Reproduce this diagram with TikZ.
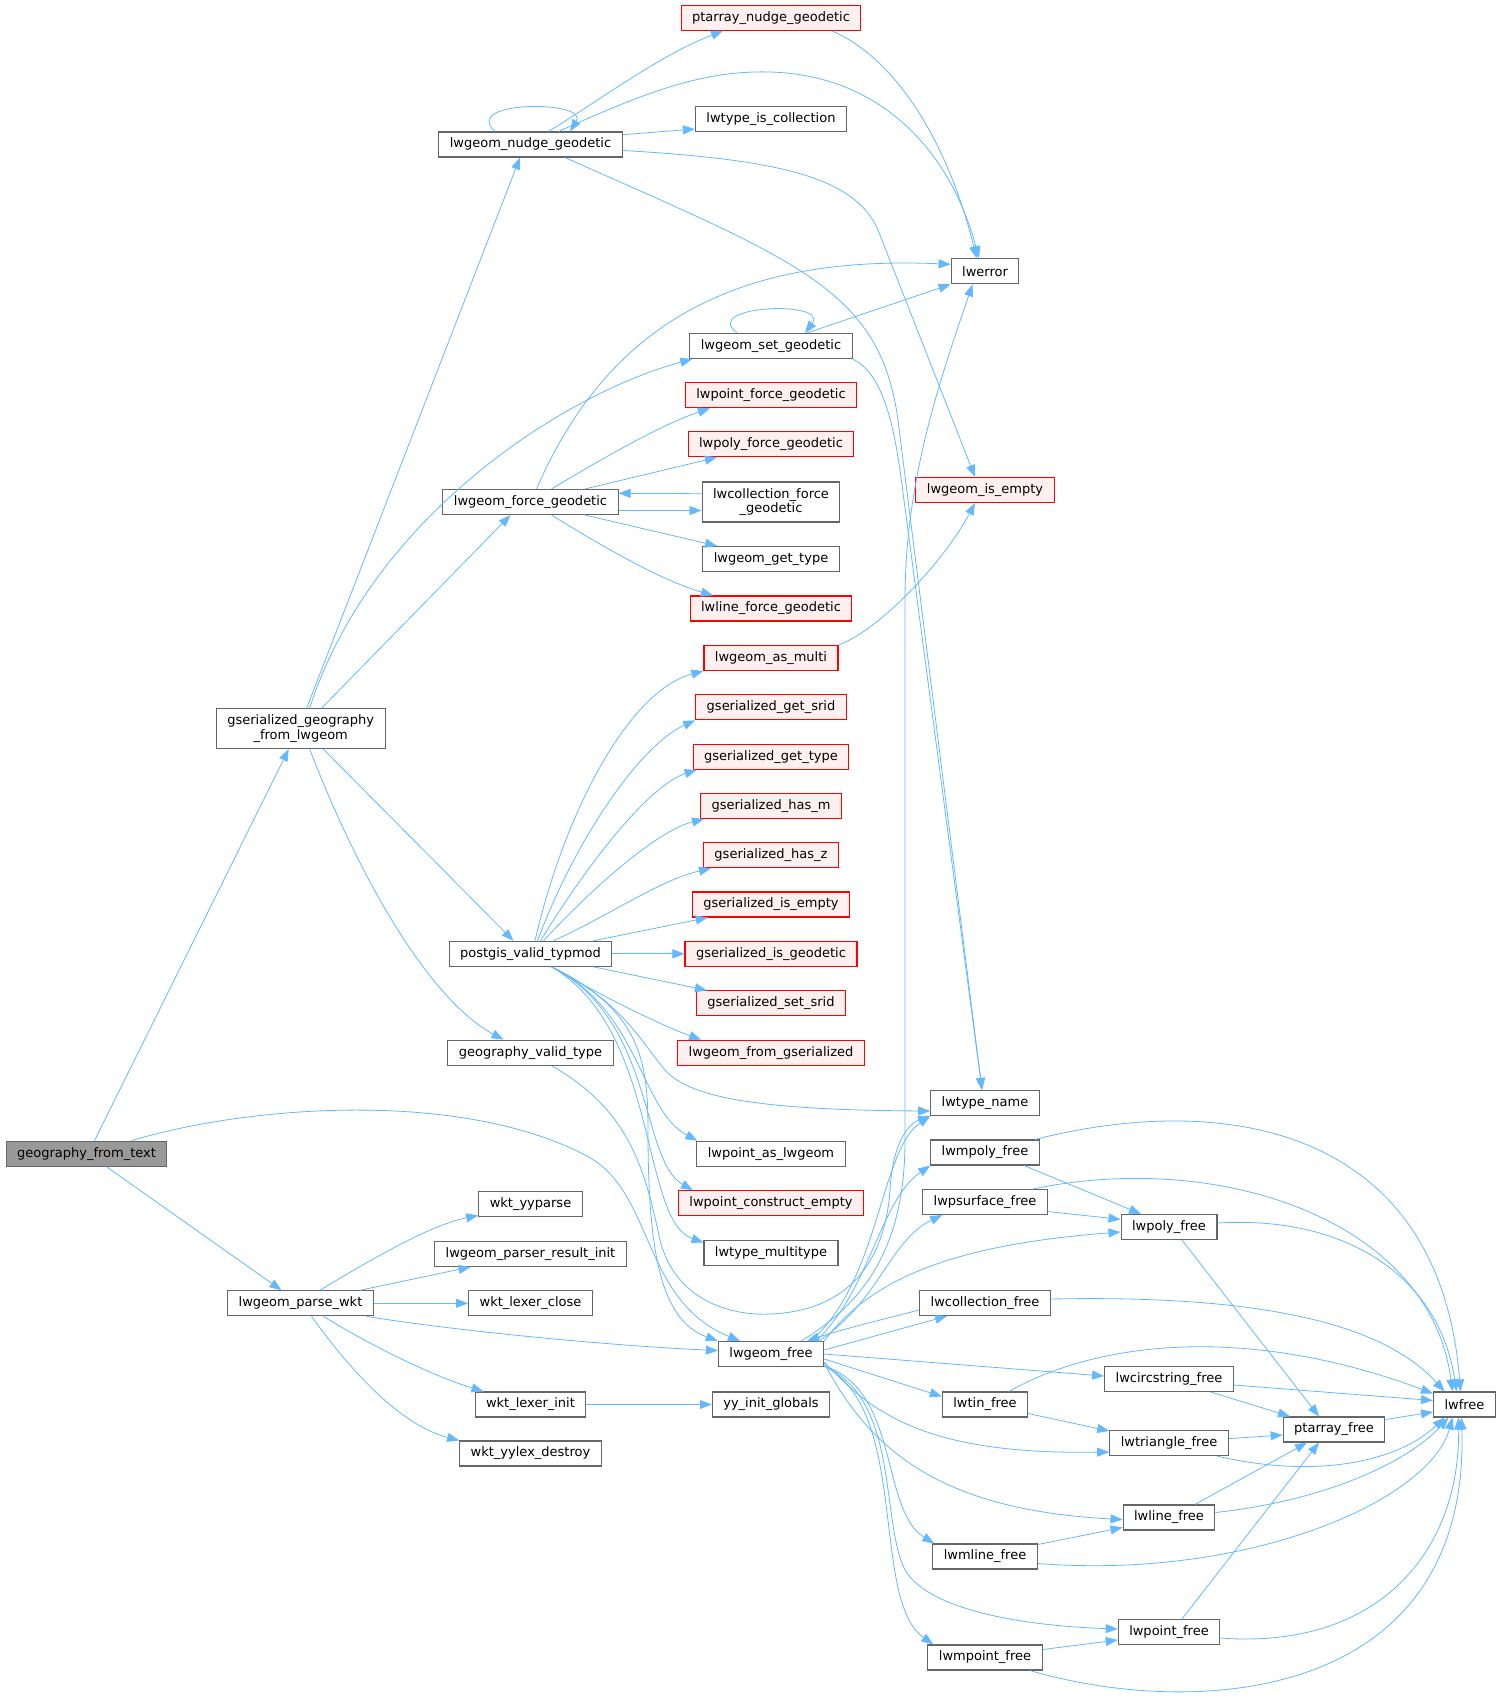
\documentclass[tikz,border=0pt]{standalone}
\usepackage{fontspec}
\setmainfont{DejaVu Sans}
\usetikzlibrary{arrows.meta}

\definecolor{edgeblue}{HTML}{63B8FF}
\definecolor{boxline}{HTML}{666666}
\definecolor{warnfill}{HTML}{FFF0F0}
\definecolor{rootfill}{HTML}{999999}

\begin{document}
\begin{tikzpicture}[
  x=1pt, y=-1pt,
  font=\fontsize{13}{14.5}\selectfont,
  box/.style={rectangle, draw=boxline, line width=1.1pt, fill=white, align=center,
              inner xsep=11pt, inner ysep=2pt, minimum height=25pt},
  warn/.style={box, draw=red, fill=warnfill},
  root/.style={box, fill=rootfill},
  tall/.style={minimum height=40pt},
  arrow/.style={-{Triangle[length=12pt,width=9pt]}, draw=edgeblue, line width=0.8pt}
]
\useasboundingbox (0,0) rectangle (1501,1702);

% callers on the left
\node[root] (fromtext) at (86.5,1153.7) {geography\_from\_text};
\node[box, tall] (gsergeo) at (300.7,728.6) {gserialized\_geography\\\_from\_lwgeom};
\node[box] (parsewkt) at (300.5,1303.3) {lwgeom\_parse\_wkt};

\node[box] (nudge) at (530.5,144.5) {lwgeom\_nudge\_geodetic};
\node[box] (forcegeo) at (530.5,502) {lwgeom\_force\_geodetic};
\node[box] (typmod) at (530.5,953.8) {postgis\_valid\_typmod};
\node[box] (validtype) at (530.5,1052.7) {geography\_valid\_type};
\node[box] (yyparse) at (530.5,1204.4) {wkt\_yyparse};
\node[box] (resinit) at (530.5,1253.9) {lwgeom\_parser\_result\_init};
\node[box] (lexclose) at (530.5,1303.3) {wkt\_lexer\_close};
\node[box] (lexinit) at (530.5,1404.5) {wkt\_lexer\_init};
\node[box] (yylexdes) at (530.5,1453.5) {wkt\_yylex\_destroy};

% middle column
\node[warn] (ptnudge) at (771,17.8) {ptarray\_nudge\_geodetic};
\node[box] (iscoll) at (771,119.4) {lwtype\_is\_collection};
\node[box] (setgeo) at (771,346) {lwgeom\_set\_geodetic};
\node[warn] (ptforce) at (771,395.3) {lwpoint\_force\_geodetic};
\node[warn] (polyforce) at (771,444.3) {lwpoly\_force\_geodetic};
\node[box, tall] (collforce) at (771,502) {lwcollection\_force\\\_geodetic};
\node[box] (gettype) at (771,559) {lwgeom\_get\_type};
\node[warn] (lineforce) at (771,608.5) {lwline\_force\_geodetic};
\node[warn] (asmulti) at (771,658) {lwgeom\_as\_multi};
\node[warn] (gsrid) at (771,707.3) {gserialized\_get\_srid};
\node[warn] (gtype) at (771,756.8) {gserialized\_get\_type};
\node[warn] (hasm) at (771,806) {gserialized\_has\_m};
\node[warn] (hasz) at (771,855.3) {gserialized\_has\_z};
\node[warn] (isempty) at (771,904.5) {gserialized\_is\_empty};
\node[warn] (isgeod) at (771,953.8) {gserialized\_is\_geodetic};
\node[warn] (ssrid) at (771,1003.3) {gserialized\_set\_srid};
\node[warn] (fromgser) at (771,1052.7) {lwgeom\_from\_gserialized};
\node[box] (aslwgeom) at (771,1153.8) {lwpoint\_as\_lwgeom};
\node[warn] (ptempty) at (771,1203.3) {lwpoint\_construct\_empty};
\node[box] (multitype) at (771,1252.6) {lwtype\_multitype};
\node[box] (geomfree) at (771,1354) {lwgeom\_free};
\node[box] (yyinit) at (771,1404.5) {yy\_init\_globals};

% right side
\node[box] (lwerr) at (985,271.3) {lwerror};
\node[warn] (geomempty) at (985,490) {lwgeom\_is\_empty};
\node[box] (typename) at (985,1103) {lwtype\_name};
\node[box] (mpolyfree) at (985,1152.5) {lwmpoly\_free};
\node[box] (psurffree) at (985,1202) {lwpsurface\_free};
\node[box] (collfree) at (985,1303) {lwcollection\_free};
\node[box] (tinfree) at (985,1404.5) {lwtin\_free};
\node[box] (mlinefree) at (985,1556.5) {lwmline\_free};
\node[box] (mptfree) at (985,1657.5) {lwmpoint\_free};
\node[box] (polyfree) at (1169,1227) {lwpoly\_free};
\node[box] (circfree) at (1169,1379) {lwcircstring\_free};
\node[box] (trifree) at (1169,1443) {lwtriangle\_free};
\node[box] (linefree) at (1169,1517.5) {lwline\_free};
\node[box] (ptfree) at (1169,1632) {lwpoint\_free};
\node[box] (parrfree) at (1334,1429.5) {ptarray\_free};
\node[box] (lwfree) at (1464.5,1404.5) {lwfree};

% geography_from_text
\draw[arrow] ([xshift=8pt]fromtext.north) -- ([xshift=-12pt]gsergeo.south);
\draw[arrow] ([xshift=20pt]fromtext.south) -- ([xshift=-19pt]parsewkt.north);
\draw[arrow] ([xshift=45pt]fromtext.north) .. controls (250,1105) and (460,1090) .. (585,1155) .. controls (655,1190) and (640,1300) .. ([xshift=-31pt]geomfree.north);

% gserialized_geography_from_lwgeom
\draw[arrow] ([xshift=6pt]gsergeo.north) -- ([xshift=-10.5pt]nudge.south);
\draw[arrow] ([xshift=9pt]gsergeo.north) .. controls (370,520) and (560,395) .. ([xshift=3pt]setgeo.south west);
\draw[arrow] ([xshift=21pt]gsergeo.north) -- ([xshift=-20pt]forcegeo.south);
\draw[arrow] ([xshift=22.6pt]gsergeo.south) -- ([xshift=-17pt]typmod.north);
\draw[arrow] ([xshift=9pt]gsergeo.south) .. controls (360,880) and (430,1000) .. ([xshift=-27pt]validtype.north);

% lwgeom_nudge_geodetic
\draw[arrow] ([xshift=-35.5pt]nudge.north) .. controls (460,100) and (590,100) .. ([xshift=39.5pt]nudge.north);
\draw[arrow] ([xshift=18pt]nudge.north) .. controls (600,100) and (660,55) .. ([xshift=-48pt]ptnudge.south);
\draw[arrow] ([xshift=28pt]nudge.north) .. controls (640,95) and (700,70) .. (770,72) .. controls (880,75) and (950,150) .. ([xshift=-6pt]lwerr.north);
\draw[arrow] ([yshift=9.8pt]nudge.east) -- ([yshift=-9.6pt]iscoll.west);
\draw[arrow] ([yshift=-6pt]nudge.east) .. controls (790,160) and (860,180) .. (880,235) -- ([xshift=-10pt]geomempty.north);
\draw[arrow] ([xshift=34.5pt]nudge.south) .. controls (800,262) and (880,290) .. (898,420) -- ([xshift=-3pt]typename.north);
\draw[arrow] ([xshift=60.7pt]ptnudge.south) .. controls (900,60) and (950,150) .. ([xshift=-8.4pt]lwerr.north);

% lwgeom_set_geodetic
\draw[arrow] ([xshift=-34pt]setgeo.north) .. controls (700,305) and (830,300) .. ([xshift=34pt]setgeo.north);
\draw[arrow] ([xshift=36pt]setgeo.north) -- (lwerr.south west);
\draw[arrow] (setgeo.south east) .. controls (875,370) and (890,400) .. (900,470) -- ([xshift=-3pt]typename.north);

% lwgeom_force_geodetic
\draw[arrow] ([xshift=6pt]forcegeo.north) .. controls (610,320) and (740,255) .. ([yshift=7pt]lwerr.west);
\draw[arrow] ([xshift=21pt]forcegeo.north) .. controls (600,460) and (660,425) .. ([xshift=-61pt]ptforce.south);
\draw[arrow] ([xshift=54.5pt]forcegeo.north) -- ([xshift=-54pt]polyforce.south);
\draw[arrow] ([yshift=-8.5pt]forcegeo.east) -- ([yshift=-8.5pt]collforce.west);
\draw[arrow] ([xshift=54.5pt]forcegeo.south) -- ([xshift=-54pt]gettype.north);
\draw[arrow] ([xshift=21pt]forcegeo.south) .. controls (600,545) and (660,580) .. ([xshift=-58pt]lineforce.north);
\draw[arrow] ([yshift=8.3pt]collforce.west) -- ([yshift=8.7pt]forcegeo.east);

% postgis_valid_typmod
\draw[arrow] ([xshift=4.5pt]typmod.north) .. controls (565,810) and (630,690) .. (asmulti.south west);
\draw[arrow] ([xshift=7pt]typmod.north) .. controls (575,840) and (640,745) .. (gsrid.south west);
\draw[arrow] ([xshift=10pt]typmod.north) .. controls (590,860) and (650,785) .. ([xshift=4pt]gtype.south west);
\draw[arrow] ([xshift=13pt]typmod.north) .. controls (600,880) and (660,830) .. ([xshift=4pt]hasm.south west);
\draw[arrow] ([xshift=23pt]typmod.north) .. controls (610,915) and (660,880) .. ([xshift=8pt]hasz.south west);
\draw[arrow] ([xshift=63pt]typmod.north) -- ([xshift=16pt]isempty.south west);
\draw[arrow] (typmod.east) -- (isgeod.west);
\draw[arrow] ([xshift=63pt]typmod.south) -- ([xshift=11pt]ssrid.north west);
\draw[arrow] ([xshift=21pt]typmod.south) .. controls (600,995) and (660,1025) .. ([xshift=24pt]fromgser.north west);
\draw[arrow] ([xshift=21pt]typmod.south) .. controls (620,1000) and (640,1040) .. (665,1070) .. controls (690,1098) and (760,1110) .. ([yshift=-8pt]typename.west);
\draw[arrow] ([xshift=21pt]typmod.south) .. controls (640,1010) and (640,1110) .. ([xshift=1pt]aslwgeom.north west);
\draw[arrow] ([xshift=21pt]typmod.south) .. controls (655,1020) and (640,1160) .. ([xshift=15pt]ptempty.north west);
\draw[arrow] ([xshift=21pt]typmod.south) .. controls (660,1030) and (640,1220) .. ([yshift=-3pt]multitype.north west);
\draw[arrow] ([xshift=21pt]typmod.south) .. controls (640,1010) and (648,1060) .. (648,1130) .. controls (648,1250) and (660,1320) .. (geomfree.north west);

% geography_valid_type
\draw[arrow] ([xshift=21pt]validtype.south) .. controls (630,1110) and (645,1170) .. (660,1240) .. controls (675,1300) and (730,1316) .. (770,1314) .. controls (850,1311) and (885,1260) .. (890,1190) .. controls (892,1150) and (905,1125) .. (typename.south west);

% lwgeom_parse_wkt
\draw[arrow] ([xshift=19.5pt]parsewkt.north) .. controls (370,1260) and (430,1225) .. ([yshift=2pt]yyparse.south west);
\draw[arrow] ([xshift=59.5pt]parsewkt.north) -- ([xshift=-60pt]resinit.south);
\draw[arrow] (parsewkt.east) -- (lexclose.west);
\draw[arrow] ([xshift=66pt]parsewkt.south) .. controls (450,1330) and (600,1345) .. ([yshift=3.4pt]geomfree.west);
\draw[arrow] ([xshift=23pt]parsewkt.south) .. controls (370,1345) and (430,1375) .. ([xshift=-47pt]lexinit.north);
\draw[arrow] ([xshift=11pt]parsewkt.south) .. controls (350,1370) and (400,1425) .. (yylexdes.north west);
\draw[arrow] (lexinit.east) -- (yyinit.west);

% lwgeom_free
\draw[arrow] ([xshift=30pt]geomfree.north) .. controls (870,1300) and (905,1240) .. (905,1140) -- (905,600) .. controls (905,480) and (940,380) .. ([xshift=-12.5pt]lwerr.south);
\draw[arrow] ([xshift=40pt]geomfree.north) .. controls (880,1280) and (880,1150) .. (typename.south west);
\draw[arrow] ([xshift=45pt]geomfree.north) .. controls (870,1290) and (880,1200) .. (mpolyfree.south west);
\draw[arrow] ([xshift=48pt]geomfree.north) .. controls (880,1300) and (890,1240) .. ([xshift=20pt]psurffree.south west);
\draw[arrow] (geomfree.north east) .. controls (870,1280) and (950,1245) .. ([yshift=-5pt]polyfree.west);
\draw[arrow] ([yshift=4pt]geomfree.east) -- ([xshift=28pt]collfree.south west);
\draw[arrow] (geomfree.east) -- ([yshift=3pt]circfree.west);
\draw[arrow] ([yshift=-5pt]geomfree.east) -- ([yshift=8pt]tinfree.west);
\draw[arrow] ([yshift=-8pt]geomfree.east) .. controls (870,1410) and (920,1455) .. ([yshift=-9pt]trifree.west);
\draw[arrow] ([yshift=-9pt]geomfree.east) .. controls (870,1450) and (940,1510) .. ([yshift=-2pt]linefree.west);
\draw[arrow] ([yshift=-12pt]geomfree.east) .. controls (900,1390) and (880,1510) .. ([xshift=2pt]mlinefree.north west);
\draw[arrow] ([yshift=-12pt]geomfree.east) .. controls (900,1400) and (880,1520) .. (905,1570) .. controls (930,1612) and (1030,1626) .. ([yshift=3pt]ptfree.west);
\draw[arrow] ([yshift=-12pt]geomfree.east) .. controls (910,1410) and (870,1600) .. ([xshift=6pt]mptfree.north west);
\draw[arrow] ([yshift=-7pt]collfree.west) .. controls (880,1320) and (840,1330) .. ([xshift=36pt]geomfree.north);

% the free functions
\draw[arrow] ([xshift=39pt]mpolyfree.south) -- ([xshift=-28pt]polyfree.north);
\draw[arrow] ([xshift=50pt]mpolyfree.north) .. controls (1230,1090) and (1440,1130) .. ([xshift=-4pt]lwfree.north);
\draw[arrow] ([yshift=-9.6pt]psurffree.east) -- ([yshift=7.7pt]polyfree.west);
\draw[arrow] ([xshift=48pt]psurffree.north) .. controls (1220,1150) and (1430,1220) .. ([xshift=-12pt]lwfree.north);
\draw[arrow] ([xshift=13pt]polyfree.south) -- ([xshift=-15pt]parrfree.north);
\draw[arrow] ([yshift=4pt]polyfree.east) .. controls (1350,1215) and (1440,1280) .. ([xshift=-8pt]lwfree.north);
\draw[arrow] ([yshift=4pt]collfree.east) .. controls (1250,1295) and (1380,1320) .. ([xshift=-20pt]lwfree.north);
\draw[arrow] ([yshift=-6pt]circfree.east) -- ([yshift=4pt]lwfree.west);
\draw[arrow] ([xshift=42pt]circfree.south) -- ([xshift=-44pt]parrfree.north);
\draw[arrow] ([yshift=-9pt]tinfree.east) -- ([yshift=12pt]trifree.west);
\draw[arrow] ([xshift=24pt]tinfree.north) .. controls (1100,1340) and (1250,1325) .. ([yshift=11pt]lwfree.west);
\draw[arrow] ([yshift=4.4pt]trifree.east) -- ([yshift=-5.5pt]parrfree.west);
\draw[arrow] ([xshift=48pt]trifree.south) .. controls (1320,1480) and (1400,1460) .. ([xshift=-20pt]lwfree.south);
\draw[arrow] ([xshift=26pt]linefree.north) -- ([xshift=-27pt]parrfree.south);
\draw[arrow] ([yshift=5pt]linefree.east) .. controls (1330,1500) and (1410,1460) .. ([xshift=-16pt]lwfree.south);
\draw[arrow] ([yshift=12pt]mlinefree.east) -- ([yshift=-10pt]linefree.west);
\draw[arrow] ([yshift=-7pt]mlinefree.east) .. controls (1250,1580) and (1430,1500) .. ([xshift=-12pt]lwfree.south);
\draw[arrow] ([xshift=13pt]ptfree.north) -- ([xshift=-15pt]parrfree.south);
\draw[arrow] ([yshift=-6pt]ptfree.east) .. controls (1380,1650) and (1460,1550) .. ([xshift=-6pt]lwfree.south);
\draw[arrow] ([yshift=8pt]mptfree.east) -- ([yshift=-8pt]ptfree.west);
\draw[arrow] ([xshift=45pt]mptfree.south) .. controls (1200,1720) and (1470,1700) .. ([xshift=-3pt]lwfree.south);
\draw[arrow] ([yshift=10pt]parrfree.east) -- ([yshift=-7.5pt]lwfree.west);

% lwgeom_as_multi
\draw[arrow] (asmulti.north east) .. controls (880,630) and (945,560) .. ([xshift=-10pt]geomempty.south);
\end{tikzpicture}
\end{document}
